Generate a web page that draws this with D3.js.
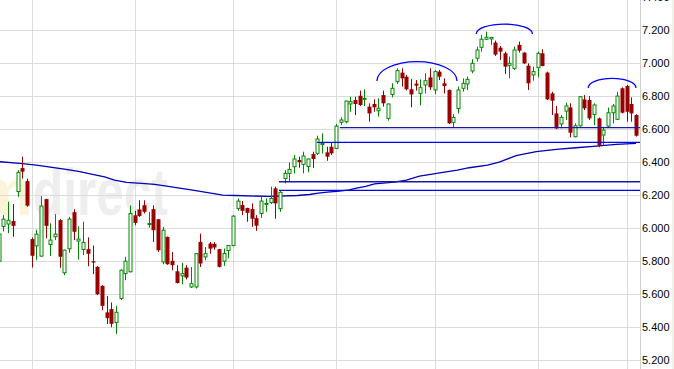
<!DOCTYPE html>
<html>
<head>
<meta charset="utf-8">
<script src="https://cdn.jsdelivr.net/npm/d3@7"></script>
<style>
  body { margin: 0; background: #fff; }
  svg { display: block; }
  .lbl { font-family: "Liberation Sans", Arial, sans-serif; font-size: 11px; fill: #000; }
</style>
</head>
<body>
<div id="chart"></div>
<script>
var W = 674, H = 369, plotR = 640;

// daily candles, one entry per trading day (index 0 .. 136)
var opens  = [5800,6010,6025,6043,6222,6364,6285,5934,5893,5831,6176,5901,5948,6049,5730,5875,6097,5922,5871,5873,
              5800,5766,5651,5490,5510,5429,5574,5725,5736,6078,6113,6139,6022,6115,6054,5796,5947,5802,5739,5711,
              5761,5644,5644,5917,5826,5907,5905,5873,5800,5865,5895,6120,6140,6122,6116,6061,6089,6145,6156,6241,
              6118,6301,6332,6372,6413,6386,6374,6449,6453,6507,6459,6493,6483,6641,6645,6752,6776,6802,6782,6736,
              6752,6711,6806,6665,6810,6887,6942,6917,6841,6875,6816,6867,6913,6837,6948,6877,6837,6641,6724,6847,
              6873,6952,7029,7095,7144,7146,7124,7093,7059,6986,6968,7110,7063,6984,6928,6972,7059,6942,6816,6695,
              6631,6709,6731,6554,6620,6780,6776,6689,6665,6564,6618,6699,6659,6847,6861,6752,6685];
var highs  = [5990,6080,6160,6146,6352,6433,6300,5944,5990,6194,6178,6029,6085,6055,5870,6069,6115,6012,6039,5944,
              5895,5770,5655,5590,5550,5530,5750,5826,6138,6105,6169,6169,6099,6139,6056,6008,5950,5856,5776,5790,
              5776,5765,5850,5967,5886,5917,5915,5875,5877,5897,6080,6180,6164,6124,6150,6079,6190,6180,6251,6251,
              6231,6352,6398,6443,6433,6463,6421,6463,6560,6574,6493,6517,6631,6671,6772,6796,6796,6833,6841,6756,
              6780,6786,6833,6755,6877,6968,6968,6928,6903,6897,6901,6938,6968,6958,6958,6907,6840,6691,6857,6907,
              6918,7023,7099,7170,7190,7158,7136,7103,7069,7039,7099,7130,7065,6998,6978,7069,7083,6948,6826,6740,
              6685,6760,6756,6635,6800,6806,6800,6756,6670,6614,6730,6752,6826,6853,6867,6792,6690];
var lows   = [5790,5980,5970,5948,6190,6300,6130,5762,5806,5827,5938,5831,5928,5760,5716,5851,5928,5810,5837,5770,
              5722,5595,5503,5420,5400,5360,5565,5685,5732,6018,6068,6089,6004,5917,5856,5782,5778,5745,5665,5660,
              5690,5638,5635,5765,5806,5846,5870,5762,5772,5817,5890,6105,6079,6039,6008,5984,6063,6099,6146,6057,
              6099,6271,6281,6332,6366,6332,6338,6366,6443,6453,6408,6443,6479,6624,6635,6705,6685,6740,6740,6645,
              6705,6675,6736,6651,6792,6873,6857,6835,6732,6833,6744,6816,6837,6812,6897,6816,6630,6611,6695,6827,
              6837,6938,7009,7069,7140,7110,7043,7019,6934,6907,6958,7063,6994,6837,6893,6913,6980,6776,6685,6600,
              6604,6655,6550,6550,6614,6715,6655,6624,6490,6503,6612,6635,6655,6695,6645,6645,6555];
var closes = [5965,6055,6048,6014,6338,6342,6136,5833,5964,6134,6014,5928,5964,5827,5867,6055,5978,5934,5913,5845,
              5792,5600,5530,5455,5421,5491,5745,5800,6089,6032,6074,6099,6028,5988,5866,5988,5782,5776,5668,5725,
              5701,5664,5846,5786,5846,5876,5883,5766,5847,5895,6073,6164,6105,6093,6057,6015,6164,6150,6180,6150,
              6217,6332,6356,6419,6400,6437,6419,6419,6540,6513,6433,6453,6618,6655,6770,6766,6752,6746,6786,6695,
              6732,6726,6756,6752,6847,6954,6907,6841,6810,6863,6851,6893,6853,6948,6917,6861,6635,6671,6837,6877,
              6901,6998,7079,7144,7156,7155,7051,7069,6978,6998,7079,7075,6998,6877,6948,7059,6982,6780,6772,6604,
              6671,6740,6578,6620,6796,6726,6665,6746,6500,6594,6699,6740,6800,6699,6705,6695,6560];

// moving average, read at these candle positions
var maIdx = [0,4.5,8,11,14,17,20,22.6,24.7,27.3,30.5,33.3,35.8,41.4,47.8,50.5,57.8,63.7,66.3,68.2,
             70.1,72.7,74.8,76.1,78.3,80.2,84.4,87,89.8,92.5,95.1,97.9,100.4,104.3,106.8,110.4,114.7,119,123.2,127.5,131.8,136];
var maVal = [6403,6392,6382,6370,6358,6344,6326,6311,6291,6277,6271,6265,6255,6230,6200,6198,6192,6198,6204,6212,
             6218,6224,6232,6241,6253,6268,6279,6291,6315,6327,6339,6352,6366,6382,6400,6439,6463,6477,6487,6497,6507,6513];

// horizontal support lines
var hlLevel = [6609, 6519, 6281, 6229];
var hlStart = [72.8, 67.9, 59.8, 59.8];
var hlColor = ["#1a1aa8", "#0000f0", "#1a1aa8", "#0000f0"];

// head & shoulders arcs
var arcStart = [80.7, 101.9, 125.8];
var arcEnd   = [97.8, 113.9, 136.0];
var arcBase  = [6891, 7176, 6849];
var arcTop   = [7009, 7236, 6907];

// first trading day of each month
var monthIdx = [7, 29, 50, 72, 93, 115, 134];
var yTicks = [5200,5400,5600,5800,6000,6200,6400,6600,6800,7000,7200,7400];

var x = d3.scaleLinear().domain([0, 136]).range([-1.2, 636]);
var y = d3.scaleLinear().domain([5200, 7200]).range([360.3, 30]);
var de = d3.formatLocale({decimal: ",", thousands: ".", grouping: [3], currency: ["", " €"]});
var fmt = de.format(",d");

var svg = d3.select("#chart").append("svg")
    .attr("width", W).attr("height", H);

svg.append("clipPath").attr("id", "plot")
  .append("rect").attr("x", 0).attr("y", 0).attr("width", plotR).attr("height", H);

svg.append("rect").attr("x", 672).attr("y", 0).attr("width", 2).attr("height", H).attr("fill", "#f2f2ea");

/* watermark */
var wm = svg.append("g").attr("clip-path", "url(#plot)");
wm.append("text").attr("x", 33).attr("y", 215).attr("text-anchor", "end")
    .attr("font-family", "Liberation Sans, Arial").attr("font-weight", "bold").attr("font-size", 66)
    .attr("fill", "#fcf4d8").text("com");
wm.append("text").attr("x", 33).attr("y", 215)
    .attr("font-family", "Liberation Sans, Arial").attr("font-weight", "bold").attr("font-size", 66)
    .attr("textLength", 135).attr("lengthAdjust", "spacingAndGlyphs")
    .attr("fill", "#eeeeee").text("direct");

/* grille */
var grid = svg.append("g");
grid.selectAll("line.h").data(yTicks).enter().append("line")
    .attr("x1", 0).attr("x2", plotR + 1)
    .attr("y1", function(d) { return Math.round(y(d)) + 0.5; })
    .attr("y2", function(d) { return Math.round(y(d)) + 0.5; })
    .attr("stroke", "#dcdcdc");
grid.selectAll("line.v").data(monthIdx).enter().append("line")
    .attr("x1", function(d) { return Math.round(x(d)) + 0.5; })
    .attr("x2", function(d) { return Math.round(x(d)) + 0.5; })
    .attr("y1", 0).attr("y2", H)
    .attr("stroke", "#dcdcdc");
grid.append("line").attr("x1", plotR + 0.5).attr("x2", plotR + 0.5).attr("y1", 0).attr("y2", H)
    .attr("stroke", "#d0d0d0");

svg.selectAll("text.lbl").data(yTicks).enter().append("text")
    .attr("class", "lbl")
    .attr("x", 642)
    .attr("y", function(d) { return y(d); })
    .attr("dy", "0.36em")
    .text(function(d) { return fmt(d); });

var g = svg.append("g").attr("clip-path", "url(#plot)");

/* moyenne mobile */
var ma = d3.line()
    .x(function(d, i) { return x(maIdx[i]); })
    .y(function(d) { return y(d); });
g.append("path").attr("d", ma(maVal))
    .attr("fill", "none").attr("stroke", "#0000b4").attr("stroke-width", 1.3);

/* bougies */
var candles = d3.range(opens.length);
var up = function(i) { return closes[i] >= opens[i]; };
var col = function(i) { return up(i) ? "#008800" : "#990000"; };
var cx = function(i) { return Math.round(x(i)); };

g.selectAll("line.wick").data(candles).enter().append("line")
    .attr("x1", function(i) { return cx(i) + 0.5; })
    .attr("x2", function(i) { return cx(i) + 0.5; })
    .attr("y1", function(i) { return y(highs[i]); })
    .attr("y2", function(i) { return y(lows[i]); })
    .attr("stroke", col);

g.selectAll("rect.body").data(candles).enter().append("rect")
    .attr("x", function(i) { return up(i) ? cx(i) - 1 : cx(i) - 1.5; })
    .attr("width", function(i) { return up(i) ? 3 : 4; })
    .attr("y", function(i) { return y(Math.max(opens[i], closes[i])); })
    .attr("height", function(i) { return Math.max(1, Math.abs(y(opens[i]) - y(closes[i]))); })
    .attr("fill", function(i) { return up(i) ? "#fff" : "#990000"; })
    .attr("stroke", function(i) { return up(i) ? "#008800" : "none"; })
    .attr("stroke-width", 1);

/* lignes horizontales */
g.selectAll("line.hl").data(hlLevel).enter().append("line")
    .attr("x1", function(d, i) { return x(hlStart[i]); })
    .attr("x2", plotR)
    .attr("y1", function(d) { return y(d); })
    .attr("y2", function(d) { return y(d); })
    .attr("stroke", function(d, i) { return hlColor[i]; })
    .attr("stroke-width", 1.3);

/* tête et épaules */
g.selectAll("path.arc").data(arcBase).enter().append("path")
    .attr("d", function(d, i) {
        var x1 = x(arcStart[i]), x2 = x(arcEnd[i]), yb = y(d);
        var rx = (x2 - x1) / 2, ry = yb - y(arcTop[i]);
        return "M" + x1 + "," + yb + " A" + rx + "," + ry + " 0 0 1 " + x2 + "," + yb;
    })
    .attr("fill", "none").attr("stroke", "#0000ff").attr("stroke-width", 1.3);
</script>
</body>
</html>
